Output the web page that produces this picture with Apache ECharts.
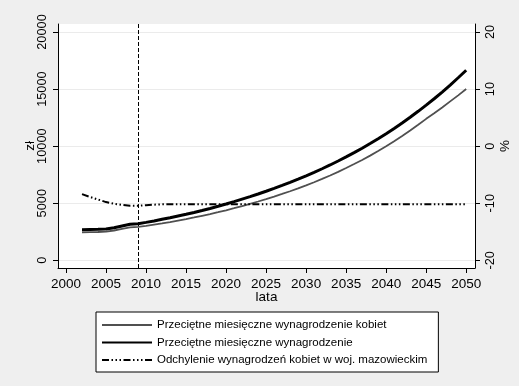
<!DOCTYPE html>
<html>
<head>
<meta charset="utf-8">
<script src="https://cdn.jsdelivr.net/npm/echarts@6/dist/echarts.min.js"></script>
<style>
html,body{margin:0;padding:0;background:#efefef;}
#chart{width:519px;height:386px;}
</style>
</head>
<body>
<div id="chart"></div>
<script>
const years = [2002,2003,2004,2005,2006,2007,2008,2009,2010,2011,2012,2013,2014,2015,2016,2017,2018,2019,2020,2021,2022,2023,2024,2025,2026,2027,2028,2029,2030,2031,2032,2033,2034,2035,2036,2037,2038,2039,2040,2041,2042,2043,2044,2045,2046,2047,2048,2049,2050];
const wageWomen = [2450,2470,2480,2510,2610,2750,2880,2920,3010,3120,3230,3350,3480,3610,3750,3900,4050,4210,4380,4560,4750,4950,5150,5360,5580,5810,6050,6300,6560,6840,7130,7430,7750,8080,8430,8790,9170,9570,9990,10430,10890,11370,11870,12390,12880,13390,13920,14450,15000];
const wageAll = [2680,2700,2710,2740,2850,3000,3150,3200,3320,3450,3590,3730,3880,4030,4190,4360,4540,4730,4930,5140,5360,5580,5810,6050,6300,6560,6830,7110,7400,7700,8020,8350,8700,9060,9430,9820,10230,10650,11090,11550,12030,12530,13050,13590,14150,14740,15350,15990,16650];
const deviation = [-8.4,-8.9,-9.35,-9.8,-10.1,-10.3,-10.45,-10.45,-10.35,-10.25,-10.2,-10.2,-10.2,-10.2,-10.2,-10.2,-10.2,-10.2,-10.2,-10.2,-10.2,-10.2,-10.2,-10.2,-10.2,-10.2,-10.2,-10.2,-10.2,-10.2,-10.2,-10.2,-10.2,-10.2,-10.2,-10.2,-10.2,-10.2,-10.2,-10.2,-10.2,-10.2,-10.2,-10.2,-10.2,-10.2,-10.2,-10.2,-10.2];
const xTicks = [2000,2005,2010,2015,2020,2025,2030,2035,2040,2045,2050];
const yLeftTicks = [0,5000,10000,15000,20000];
const yRightTicks = [-20,-10,0,10,20];
const seriesNames = ['Przeciętne miesięczne wynagrodzenie kobiet','Przeciętne miesięczne wynagrodzenie','Odchylenie wynagrodzeń kobiet w woj. mazowieckim'];
const markerYear = 2009;

const pairs = arr => years.map((y,i)=>[y,arr[i]]);
const FONT = '"Liberation Sans", Arial, sans-serif';
const plain = v => String(v);

const chart = echarts.init(document.getElementById('chart'), null, {renderer:'canvas'});
chart.setOption({
  animation:false,
  backgroundColor:'#efefef',
  textStyle:{fontFamily:FONT},
  grid:{left:58,right:44,top:24,bottom:118,show:true,backgroundColor:'#ffffff',borderWidth:0,containLabel:false,outerBoundsMode:'none'},
  legend:{
    data:seriesNames,
    orient:'vertical',left:96,top:312,
    align:'left',
    padding:[7,11,6,5],
    itemWidth:50,itemHeight:14,itemGap:5.5,
    itemStyle:{opacity:0},
    backgroundColor:'#ffffff',borderColor:'#000',borderWidth:1,borderRadius:0,
    textStyle:{fontSize:11.5,color:'#000',fontFamily:FONT}
  },
  xAxis:{
    type:'value',min:1999,max:2051.1,
    name:'lata',nameLocation:'middle',nameGap:22,nameMoveOverlap:false,
    nameTextStyle:{fontSize:13.5,color:'#000',fontFamily:FONT},
    axisLine:{show:true,onZero:false,lineStyle:{color:'#000',width:1}},
    axisTick:{show:true,length:5,inside:false,customValues:xTicks,lineStyle:{color:'#000'}},
    axisLabel:{customValues:xTicks,formatter:plain,fontSize:13.5,color:'#000',margin:9,fontFamily:FONT},
    splitLine:{show:false}
  },
  yAxis:[{
    type:'value',min:-675,max:20700,position:'left',
    name:'zł',nameLocation:'middle',nameRotate:90,nameGap:21,nameMoveOverlap:false,
    nameTextStyle:{fontSize:13.5,color:'#000',fontFamily:FONT},
    axisLine:{show:true,onZero:false,lineStyle:{color:'#000',width:1}},
    axisTick:{show:true,length:5,customValues:yLeftTicks,lineStyle:{color:'#000'}},
    axisLabel:{customValues:yLeftTicks,formatter:plain,rotate:90,align:'center',verticalAlign:'bottom',fontSize:12.8,color:'#000',margin:9,fontFamily:FONT},
    splitLine:{show:true,lineStyle:{color:'#ebebeb',width:1}}
  },{
    type:'value',min:-21.35,max:21.4,position:'right',
    name:'%',nameLocation:'middle',nameRotate:90,nameGap:23,nameMoveOverlap:false,
    nameTextStyle:{fontSize:13.5,color:'#000',fontFamily:FONT},
    axisLine:{show:true,onZero:false,lineStyle:{color:'#000',width:1}},
    axisTick:{show:true,length:5,customValues:yRightTicks,lineStyle:{color:'#000'}},
    axisLabel:{customValues:yRightTicks,formatter:plain,rotate:90,align:'center',verticalAlign:'top',fontSize:12.8,color:'#000',margin:9,fontFamily:FONT},
    splitLine:{show:false}
  }],
  series:[{
    name:seriesNames[0],type:'line',yAxisIndex:0,data:pairs(wageWomen),
    symbol:'none',smooth:false,
    lineStyle:{color:'#505050',width:1.8},itemStyle:{color:'#505050'}
  },{
    name:seriesNames[1],type:'line',yAxisIndex:0,data:pairs(wageAll),
    symbol:'none',smooth:false,
    lineStyle:{color:'#000',width:3},itemStyle:{color:'#000'},
    markLine:{silent:true,symbol:'none',label:{show:false},
      lineStyle:{color:'#000',width:1,type:[4,2]},
      data:[{xAxis:markerYear}]}
  },{
    name:seriesNames[2],type:'line',yAxisIndex:1,data:pairs(deviation),
    symbol:'none',smooth:false,
    lineStyle:{color:'#000',width:2,type:[7,2.5,1.5,2.5,1.5,2.5,1.5,2.5]},itemStyle:{color:'#000'}
  }]
});
</script>
</body>
</html>
